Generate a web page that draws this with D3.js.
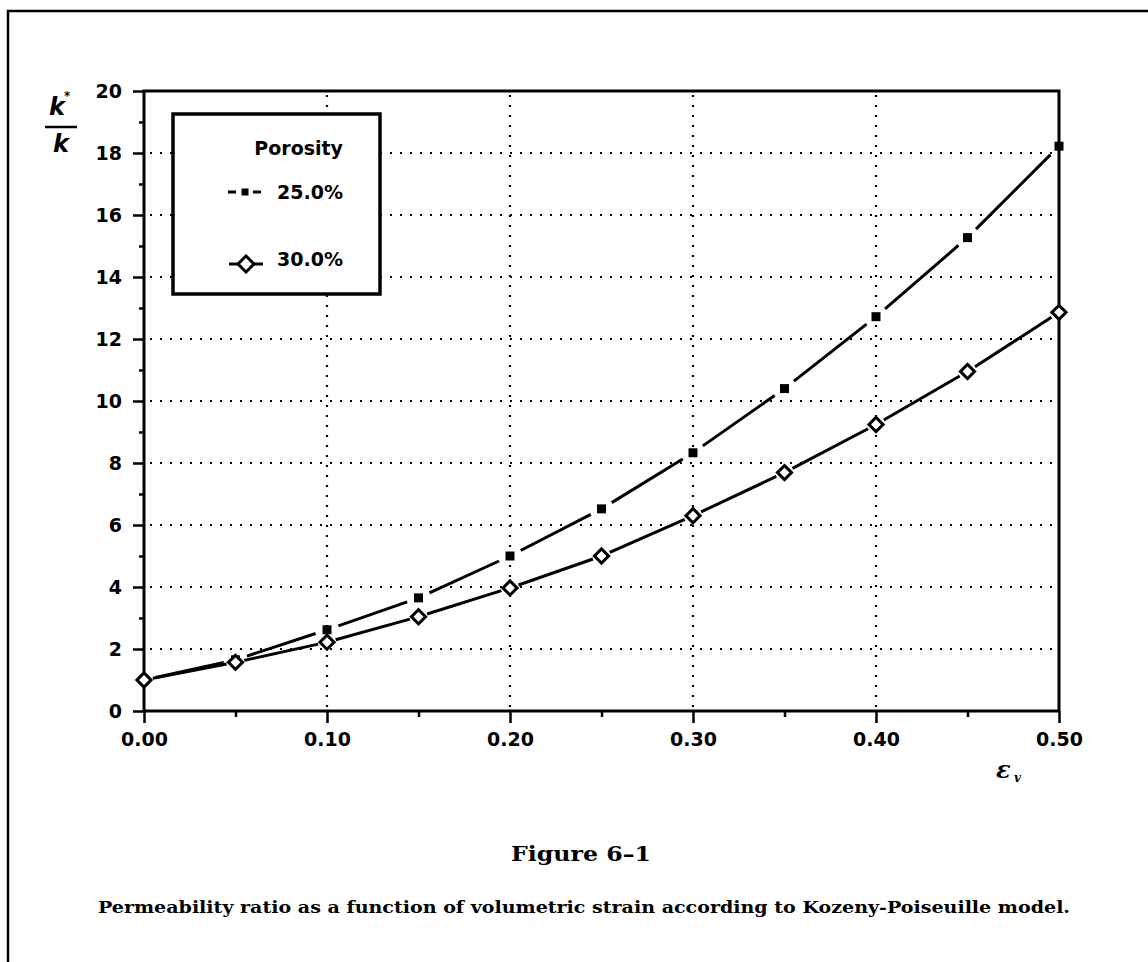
<!DOCTYPE html>
<html>
<head>
<meta charset="utf-8">
<script src="https://cdn.jsdelivr.net/npm/d3@7"></script>
<style>
  html, body { margin: 0; padding: 0; background: #fff; }
  svg { display: block; }
</style>
</head>
<body>
<svg id="chart" width="1148" height="962"></svg>
<script>
// ---- data ----
const strain = [0.00, 0.05, 0.10, 0.15, 0.20, 0.25, 0.30, 0.35, 0.40, 0.45, 0.50];
const porosity25 = [1.0, 1.65, 2.62, 3.65, 5.0, 6.52, 8.33, 10.4, 12.72, 15.27, 18.22];
const porosity30 = [1.0, 1.57, 2.22, 3.04, 3.97, 5.0, 6.3, 7.69, 9.24, 10.95, 12.86];
const xTickValues = [0.00, 0.10, 0.20, 0.30, 0.40, 0.50];
const xMinorTicks = [0.05, 0.15, 0.25, 0.35, 0.45];
const yTickValues = [0, 2, 4, 6, 8, 10, 12, 14, 16, 18, 20];
const yMinorTicks = [1, 3, 5, 7, 9, 11, 13, 15, 17, 19];
const xGrid = [0.10, 0.20, 0.30, 0.40];
const yGrid = [2, 4, 6, 8, 10, 12, 14, 16, 18];
const legendTitle = "Porosity";
const seriesNames = ["25.0%", "30.0%"];
const figureTitle = "Figure 6\u20131";
const caption = "Permeability ratio as a function of volumetric strain according to Kozeny-Poiseuille model.";

(function () {
// ---- layout ----
const svg = d3.select("#chart");
const pL = 144, pR = 1059, pT = 91, pB = 711;
const x = d3.scaleLinear().domain([0, 0.5]).range([pL, pR]);
const y = d3.scaleLinear().domain([0, 20]).range([pB, pT]);
const sansBold = "'DejaVu Sans', sans-serif";

// outer frame (extends past the right and bottom edges)
svg.append("path")
  .attr("d", "M1160,11 L8,11 L8,975")
  .attr("fill", "none").attr("stroke", "#000").attr("stroke-width", 2.5);

// grid
const grid = svg.append("g").attr("stroke", "#000").attr("stroke-width", 2.2)
  .attr("stroke-dasharray", "2 8").attr("stroke-linecap", "butt");
grid.selectAll("line.h").data(yGrid).join("line").attr("class", "h")
  .attr("x1", pL + 6).attr("x2", pR).attr("y1", d => y(d)).attr("y2", d => y(d));
grid.selectAll("line.v").data(xGrid).join("line").attr("class", "v")
  .attr("x1", d => x(d)).attr("x2", d => x(d)).attr("y1", pT + 4).attr("y2", pB);

// axes
const yAxis = svg.append("g").attr("transform", `translate(${pL},0)`)
  .call(d3.axisLeft(y).tickValues(yTickValues).tickSize(11).tickPadding(10).tickFormat(d3.format("d")));
const yMinor = svg.append("g").attr("transform", `translate(${pL},0)`)
  .call(d3.axisLeft(y).tickValues(yMinorTicks).tickSize(5).tickFormat(""));
const xAxis = svg.append("g").attr("transform", `translate(0,${pB})`)
  .call(d3.axisBottom(x).tickValues(xTickValues).tickSize(12).tickPadding(10).tickFormat(d3.format(".2f")));
const xMinor = svg.append("g").attr("transform", `translate(0,${pB})`)
  .call(d3.axisBottom(x).tickValues(xMinorTicks).tickSize(6).tickFormat(""));
[yAxis, yMinor, xAxis, xMinor].forEach(g => {
  g.select(".domain").remove();
  g.selectAll(".tick line").attr("stroke", "#000").attr("stroke-width", 2.5);
  g.selectAll("text").attr("fill", "#000").attr("font-family", sansBold)
    .attr("font-weight", "bold").attr("font-size", 19);
});
yAxis.selectAll("text").attr("dx", "-1");

// plot frame
svg.append("rect").attr("x", pL).attr("y", pT)
  .attr("width", pR - pL).attr("height", pB - pT)
  .attr("fill", "none").attr("stroke", "#000").attr("stroke-width", 3);

// series lines with gaps around markers
function gappedSegments(xs, ys, gap) {
  const pts = xs.map((v, i) => [x(v), y(ys[i])]);
  const segs = [];
  for (let i = 0; i < pts.length - 1; i++) {
    const [x0, y0] = pts[i], [x1, y1] = pts[i + 1];
    const dx = x1 - x0, dy = y1 - y0, L = Math.hypot(dx, dy);
    if (L <= 2 * gap) continue;
    const ux = dx / L, uy = dy / L;
    segs.push([x0 + ux * gap, y0 + uy * gap, x1 - ux * gap, y1 - uy * gap]);
  }
  return segs;
}
const series = [
  { vals: porosity25, gap: 12 },
  { vals: porosity30, gap: 9 }
];
series.forEach(s => {
  svg.append("g").selectAll("line")
    .data(gappedSegments(strain, s.vals, s.gap)).join("line")
    .attr("x1", d => d[0]).attr("y1", d => d[1]).attr("x2", d => d[2]).attr("y2", d => d[3])
    .attr("stroke", "#000").attr("stroke-width", 3).attr("stroke-linecap", "butt");
});

// markers
const squareSym = d3.symbol().type(d3.symbolSquare).size(81);
const diamondSym = d3.symbol().type(d3.symbolSquare).size(100);
svg.append("g").selectAll("path").data(strain).join("path")
  .attr("d", squareSym())
  .attr("transform", (d, i) => `translate(${x(d)},${y(porosity25[i])})`)
  .attr("fill", "#000");
svg.append("g").selectAll("path").data(strain).join("path")
  .attr("d", diamondSym())
  .attr("transform", (d, i) => `translate(${x(d)},${y(porosity30[i])}) rotate(45)`)
  .attr("fill", "#fff").attr("stroke", "#000").attr("stroke-width", 3);

// legend
const lg = svg.append("g");
lg.append("rect").attr("x", 173).attr("y", 114).attr("width", 207).attr("height", 180)
  .attr("fill", "#fff").attr("stroke", "#000").attr("stroke-width", 3.5);
lg.append("text").attr("x", 343).attr("y", 155).attr("text-anchor", "end")
  .attr("font-family", sansBold).attr("font-weight", "bold").attr("font-size", 19)
  .text(legendTitle);
lg.selectAll("text.s").data(seriesNames).join("text").attr("class", "s")
  .attr("x", 343).attr("y", (d, i) => i === 0 ? 199 : 266).attr("text-anchor", "end")
  .attr("font-family", sansBold).attr("font-weight", "bold").attr("font-size", 19)
  .text(d => d);
// 25% legend symbol
lg.append("line").attr("x1", 228).attr("x2", 236).attr("y1", 192).attr("y2", 192)
  .attr("stroke", "#000").attr("stroke-width", 3);
lg.append("line").attr("x1", 253).attr("x2", 261).attr("y1", 192).attr("y2", 192)
  .attr("stroke", "#000").attr("stroke-width", 3);
lg.append("path").attr("d", d3.symbol().type(d3.symbolSquare).size(49)())
  .attr("transform", "translate(245,192)").attr("fill", "#000");
// 30% legend symbol
lg.append("line").attr("x1", 229).attr("x2", 263).attr("y1", 264).attr("y2", 264)
  .attr("stroke", "#000").attr("stroke-width", 3);
lg.append("path").attr("d", d3.symbol().type(d3.symbolSquare).size(128)())
  .attr("transform", "translate(246,264) rotate(45)")
  .attr("fill", "#fff").attr("stroke", "#000").attr("stroke-width", 3);

// y-axis label k*/k
const yl = svg.append("g").attr("font-family", sansBold).attr("font-weight", "bold")
  .attr("font-style", "italic").attr("font-size", 24).attr("fill", "#000");
yl.append("text").attr("x", 49).attr("y", 115).text("k");
yl.append("text").attr("x", 64).attr("y", 100).attr("font-size", 12).text("*");
yl.append("line").attr("x1", 45).attr("x2", 77).attr("y1", 127).attr("y2", 127)
  .attr("stroke", "#000").attr("stroke-width", 2.5);
yl.append("text").attr("x", 53).attr("y", 152).text("k");

// x-axis label epsilon_v
const xl = svg.append("g").attr("font-family", "'DejaVu Serif', serif")
  .attr("font-style", "italic").attr("font-weight", "bold").attr("fill", "#000");
xl.append("text").attr("x", 996).attr("y", 778).attr("font-size", 24).text("\u03B5");
xl.append("text").attr("x", 1014).attr("y", 782).attr("font-size", 12).text("v");

// caption
svg.append("text").attr("x", 581).attr("y", 861).attr("text-anchor", "middle")
  .attr("font-family", "'DejaVu Serif', serif").attr("font-weight", "bold")
  .attr("font-size", 20).attr("textLength", 140).attr("lengthAdjust", "spacingAndGlyphs")
  .text(figureTitle);
svg.append("text").attr("x", 98).attr("y", 913)
  .attr("font-family", "'DejaVu Serif', serif").attr("font-weight", "bold")
  .attr("font-size", 16).attr("textLength", 972).attr("lengthAdjust", "spacingAndGlyphs")
  .text(caption);
})();
</script>
</body>
</html>
